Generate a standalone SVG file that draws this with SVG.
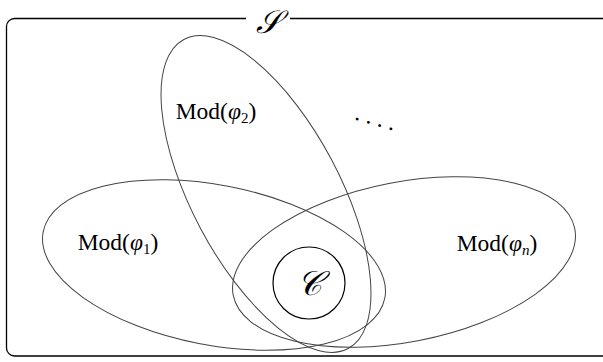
<svg xmlns="http://www.w3.org/2000/svg" width="603" height="362" viewBox="0 0 603 362">
<style>
.frame{fill:none;stroke:#000;stroke-width:1.3}
.set{fill:none;stroke:#444;stroke-width:1}
.lbl{font-family:"Liberation Serif","DejaVu Serif",serif;font-size:23.5px;fill:#000}
.it{font-style:italic}
.sub{font-size:15px}
.big{font-family:"DejaVu Serif","Liberation Serif",serif;font-style:italic;fill:#000}
</style>
<rect width="603" height="362" fill="#fff"/>
<g id="frame">
<path class="frame" d="M246,18.5 H14.5 A8,8 0 0 0 6.5,26.5 V348 A8,8 0 0 0 14.5,356 H603"/>
<path class="frame" d="M290,18.5 H603"/>
<text class="big" x="268" y="33" font-size="32" text-anchor="middle">𝒮</text>
</g>
<g id="mod1">
<ellipse class="set" cx="214" cy="265" rx="174" ry="80" transform="rotate(11 214 265)"/>
<text class="lbl" x="118" y="250" text-anchor="middle">Mod(<tspan class="it">φ</tspan><tspan class="sub" dy="4">1</tspan><tspan dy="-4">)</tspan></text>
</g>
<g id="modn">
<ellipse class="set" cx="404" cy="262" rx="174" ry="80" transform="rotate(-11 404 262)"/>
<text class="lbl" x="497" y="251" text-anchor="middle">Mod(<tspan class="it">φ</tspan><tspan class="it sub" dy="4">n</tspan><tspan dy="-4">)</tspan></text>
</g>
<g id="mod2">
<ellipse class="set" cx="266" cy="194" rx="175" ry="74" transform="rotate(62 266 194)"/>
<text class="lbl" x="216" y="119" text-anchor="middle">Mod(<tspan class="it">φ</tspan><tspan class="sub" dy="4">2</tspan><tspan dy="-4">)</tspan></text>
</g>
<g id="dots">
<text class="lbl" x="374" y="125" text-anchor="middle" transform="rotate(16 374 124)">. . . .</text>
</g>
<g id="C">
<circle cx="309" cy="283" r="36" fill="none" stroke="#000" stroke-width="1.2"/>
<text class="big" x="309" y="295" font-size="34" text-anchor="middle">𝒞</text>
</g>
<g id="connectors"></g>
</svg>
